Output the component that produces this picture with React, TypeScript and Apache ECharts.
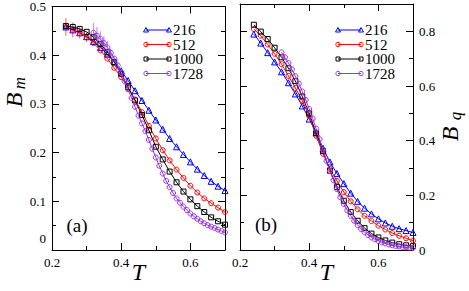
import React, { useEffect, useRef } from "react";
import * as echarts from "echarts";

const FONT = "Liberation Serif";

const T_MAIN = [0.24, 0.26, 0.28, 0.30, 0.32, 0.34, 0.36, 0.38, 0.40, 0.42, 0.44, 0.46, 0.48, 0.50, 0.52, 0.54, 0.56, 0.58, 0.60, 0.62, 0.64, 0.66, 0.68, 0.70];
const T_1728 = [0.32, 0.33, 0.34, 0.35, 0.36, 0.37, 0.38, 0.39, 0.40, 0.41, 0.42, 0.43, 0.44, 0.45, 0.46, 0.47, 0.48, 0.49, 0.50, 0.51, 0.52, 0.53, 0.54, 0.55, 0.56, 0.57, 0.58, 0.59, 0.60, 0.61, 0.62, 0.63, 0.64, 0.65, 0.66, 0.67, 0.68, 0.69, 0.70];

// panel (a): B_m
const BM_216 = [0.458, 0.452, 0.446, 0.438, 0.428, 0.416, 0.402, 0.386, 0.368, 0.348, 0.327, 0.307, 0.287, 0.267, 0.248, 0.229, 0.212, 0.196, 0.181, 0.166, 0.153, 0.141, 0.131, 0.122];
const BM_512 = [0.458, 0.452, 0.446, 0.437, 0.425, 0.41, 0.393, 0.374, 0.355, 0.333, 0.309, 0.283, 0.255, 0.229, 0.205, 0.184, 0.165, 0.148, 0.132, 0.118, 0.106, 0.096, 0.087, 0.078];
const BM_1000 = [0.46, 0.458, 0.454, 0.448, 0.437, 0.423, 0.406, 0.386, 0.362, 0.334, 0.307, 0.277, 0.246, 0.212, 0.186, 0.161, 0.139, 0.12, 0.104, 0.09, 0.078, 0.067, 0.059, 0.052];
const BM_1728 = [0.446, 0.44, 0.433, 0.425, 0.416, 0.405, 0.393, 0.379, 0.364, 0.346, 0.33, 0.312, 0.294, 0.276, 0.26, 0.244, 0.226, 0.208, 0.19, 0.173, 0.157, 0.142, 0.129, 0.117, 0.106, 0.097, 0.089, 0.082, 0.075, 0.069, 0.064, 0.059, 0.055, 0.051, 0.048, 0.045, 0.042, 0.039, 0.036];

// error bars in panel (a)
const ERR_512_T = [0.24, 0.26, 0.28, 0.30];
const ERR_512 = [0.018, 0.015, 0.012, 0.01];
const ERR_1728_T = [0.32, 0.33, 0.34, 0.35, 0.36, 0.37, 0.38];
const ERR_1728 = [0.02, 0.018, 0.016, 0.014, 0.012, 0.009, 0.006];

// panel (b): B_q
const BQ_216 = [0.79, 0.757, 0.722, 0.688, 0.652, 0.612, 0.571, 0.527, 0.479, 0.43, 0.372, 0.322, 0.28, 0.243, 0.208, 0.178, 0.153, 0.132, 0.114, 0.099, 0.087, 0.078, 0.071, 0.064];
const BQ_512 = [0.808, 0.784, 0.752, 0.718, 0.68, 0.637, 0.593, 0.547, 0.49, 0.418, 0.352, 0.297, 0.253, 0.212, 0.178, 0.149, 0.125, 0.106, 0.089, 0.075, 0.062, 0.052, 0.043, 0.034];
const BQ_1000 = [0.824, 0.799, 0.772, 0.74, 0.705, 0.665, 0.618, 0.562, 0.5, 0.427, 0.362, 0.29, 0.23, 0.18, 0.139, 0.107, 0.08, 0.06, 0.046, 0.035, 0.027, 0.021, 0.017, 0.014];
const BQ_1728 = [0.723, 0.705, 0.684, 0.661, 0.636, 0.609, 0.58, 0.549, 0.516, 0.481, 0.444, 0.405, 0.365, 0.326, 0.289, 0.255, 0.223, 0.193, 0.168, 0.145, 0.125, 0.107, 0.091, 0.077, 0.065, 0.055, 0.046, 0.039, 0.033, 0.028, 0.024, 0.02, 0.017, 0.015, 0.013, 0.011, 0.01, 0.009, 0.008];

const SIZES = ["216", "512", "1000", "1728"];
const COLORS = ["#0000ff", "#ff0000", "#000000", "#9b30e8"];
const SYMBOLS = ["triangle", "circle", "rect", "circle"];
const SYM_SIZE = [6, 5, 5, 5];

const X_TICKS = { min: 0.2, max: 0.7, minor: 0.1, major: 0.2 };
const YA_TICKS = { min: 0, max: 0.5, minor: 0.05, major: 0.1 };
const YB_TICKS = { min: 0, max: 0.9, minor: 0.1, major: 0.2 };

function axesFor(
  grid: number,
  t: { min: number; max: number; minor: number; major: number },
  sides: [string, string],
  labelSide: string,
  showMax: boolean,
  formatter?: any,
  rich?: any
) {
  const out: any[] = [];
  sides.forEach((side) => {
    const base = {
      type: "value",
      gridIndex: grid,
      position: side,
      min: t.min,
      max: t.max,
      splitLine: { show: false },
      minorTick: { show: false },
    };
    out.push({
      ...base,
      interval: t.minor,
      axisLine: { show: true, onZero: false, lineStyle: { color: "#000", width: 1 } },
      axisTick: { show: true, inside: true, length: 4, lineStyle: { color: "#000", width: 1 } },
      axisLabel: { show: false },
    });
    out.push({
      ...base,
      interval: t.major,
      axisLine: { show: false, onZero: false },
      axisTick: { show: true, inside: true, length: 7, lineStyle: { color: "#000", width: 1 } },
      axisLabel: {
        show: side === labelSide,
        showMaxLabel: showMax,
        showMinLabel: true,
        color: "#000",
        fontFamily: FONT,
        fontSize: 13,
        margin: 6,
        formatter: formatter || ((v: number) => (v === 0 ? "0" : v.toFixed(1))),
        rich: rich,
      },
    });
  });
  return out;
}

function lineSeries(name: string, i: number, xs: number[], ys: number[], xi: number, yi: number) {
  return {
    name,
    type: "line",
    xAxisIndex: xi,
    yAxisIndex: yi,
    data: xs.map((x, k) => [x, ys[k]]),
    symbol: SYMBOLS[i],
    symbolSize: SYM_SIZE[i],
    showSymbol: true,
    lineStyle: { color: COLORS[i], width: 1 },
    itemStyle: { color: "transparent", borderColor: COLORS[i], borderWidth: 1 },
    z: 3 + i,
  };
}

function errSeries(color: string, xs: number[], ys: number[], es: number[], xi: number, yi: number) {
  return {
    type: "custom",
    xAxisIndex: xi,
    yAxisIndex: yi,
    data: xs.map((x, k) => [x, ys[k], es[k]]),
    renderItem: (_p: any, api: any) => {
      const x = api.value(0);
      const y = api.value(1);
      const e = api.value(2);
      const a = api.coord([x, y + e]);
      const b = api.coord([x, y - e]);
      return {
        type: "line",
        shape: { x1: a[0], y1: a[1], x2: b[0], y2: b[1] },
        style: { stroke: color, lineWidth: 1.2, opacity: 0.55 },
      };
    },
    z: 2,
  };
}

function legendGraphics(x1: number, x2: number, tx: number, ys: number[]) {
  const els: any[] = [];
  SIZES.forEach((label, i) => {
    const y = ys[i];
    const c = COLORS[i];
    els.push({ type: "line", shape: { x1, y1: y, x2, y2: y }, style: { stroke: c, lineWidth: 1 } });
    [x1, x2].forEach((x) => {
      if (SYMBOLS[i] === "triangle") {
        els.push({ type: "polygon", shape: { points: [[x, y - 2.5], [x - 2.5, y + 2], [x + 2.5, y + 2]] }, style: { fill: "none", stroke: c, lineWidth: 1 } });
      } else if (SYMBOLS[i] === "rect") {
        els.push({ type: "rect", shape: { x: x - 2, y: y - 2, width: 4, height: 4 }, style: { fill: "none", stroke: c, lineWidth: 1 } });
      } else {
        els.push({ type: "circle", shape: { cx: x, cy: y, r: 2.2 }, style: { fill: "none", stroke: c, lineWidth: 1 } });
      }
    });
    els.push({
      type: "text",
      x: tx,
      y,
      style: { text: label, fontFamily: FONT, fontSize: 15, fill: "#000", align: "left", verticalAlign: "middle" },
    });
  });
  return els;
}

function txt(x: number, y: number, text: string, size: number, italic: boolean, rot = 0) {
  return {
    type: "text",
    x,
    y,
    rotation: rot,
    style: {
      text,
      fontFamily: FONT,
      fontStyle: italic ? "italic" : "normal",
      fontSize: size,
      fill: "#000",
      align: "center",
      verticalAlign: "middle",
    },
  };
}

export default function App() {
  const ref = useRef<HTMLDivElement>(null);

  useEffect(() => {
    if (!ref.current) return;
    const chart = echarts.init(ref.current, null, { renderer: "svg" });

    const xAxis = [
      ...axesFor(0, X_TICKS, ["bottom", "top"], "bottom", false),
      ...axesFor(1, X_TICKS, ["bottom", "top"], "bottom", false),
    ];
    const yAxis = [
      ...axesFor(0, YA_TICKS, ["left", "right"], "left", true, (v: number) => (v === 0 ? "{z|0}" : v.toFixed(1)), {
        z: { fontFamily: FONT, fontSize: 13, color: "#000", padding: [0, 0, 24, 0] },
      }),
      ...axesFor(1, YB_TICKS, ["right", "left"], "right", false),
    ];
    const series: any[] = [
      errSeries(COLORS[1], ERR_512_T, ERR_512_T.map((t) => BM_512[T_MAIN.indexOf(t)]), ERR_512, 0, 0),
      errSeries(COLORS[3], ERR_1728_T, ERR_1728_T.map((t) => BM_1728[T_1728.indexOf(t)]), ERR_1728, 0, 0),
      lineSeries("216", 0, T_MAIN, BM_216, 0, 0),
      lineSeries("512", 1, T_MAIN, BM_512, 0, 0),
      lineSeries("1000", 2, T_MAIN, BM_1000, 0, 0),
      lineSeries("1728", 3, T_1728, BM_1728, 0, 0),
      lineSeries("216", 0, T_MAIN, BQ_216, 4, 4),
      lineSeries("512", 1, T_MAIN, BQ_512, 4, 4),
      lineSeries("1000", 2, T_MAIN, BQ_1000, 4, 4),
      lineSeries("1728", 3, T_1728, BQ_1728, 4, 4),
    ];

    const legY = [30, 44.5, 59, 73.5];
    const graphic: any[] = [
      ...legendGraphics(146, 169, 173, legY),
      ...legendGraphics(338, 361, 365, legY),
      txt(77, 225, "(a)", 19, false),
      txt(266, 224, "(b)", 19, false),
      txt(138.5, 272, "T", 24, true),
      txt(326.5, 272, "T", 24, true),
      txt(14, 100, "B", 24, true, Math.PI / 2),
      txt(19, 83, "m", 17, true, Math.PI / 2),
      txt(450, 134, "B", 24, true, Math.PI / 2),
      txt(455, 116, "q", 17, true, Math.PI / 2),
    ];

    chart.setOption({
      animation: false,
      backgroundColor: "#ffffff",
      grid: [
        { left: 52, top: 4, width: 173, height: 246, containLabel: false },
        { left: 240, top: 4, width: 173, height: 246, containLabel: false },
      ],
      xAxis,
      yAxis,
      series,
      graphic,
    });

    return () => chart.dispose();
  }, []);

  return <div ref={ref} style={{ position: "absolute", left: 0, top: 0, width: 469, height: 291 }} />;
}
